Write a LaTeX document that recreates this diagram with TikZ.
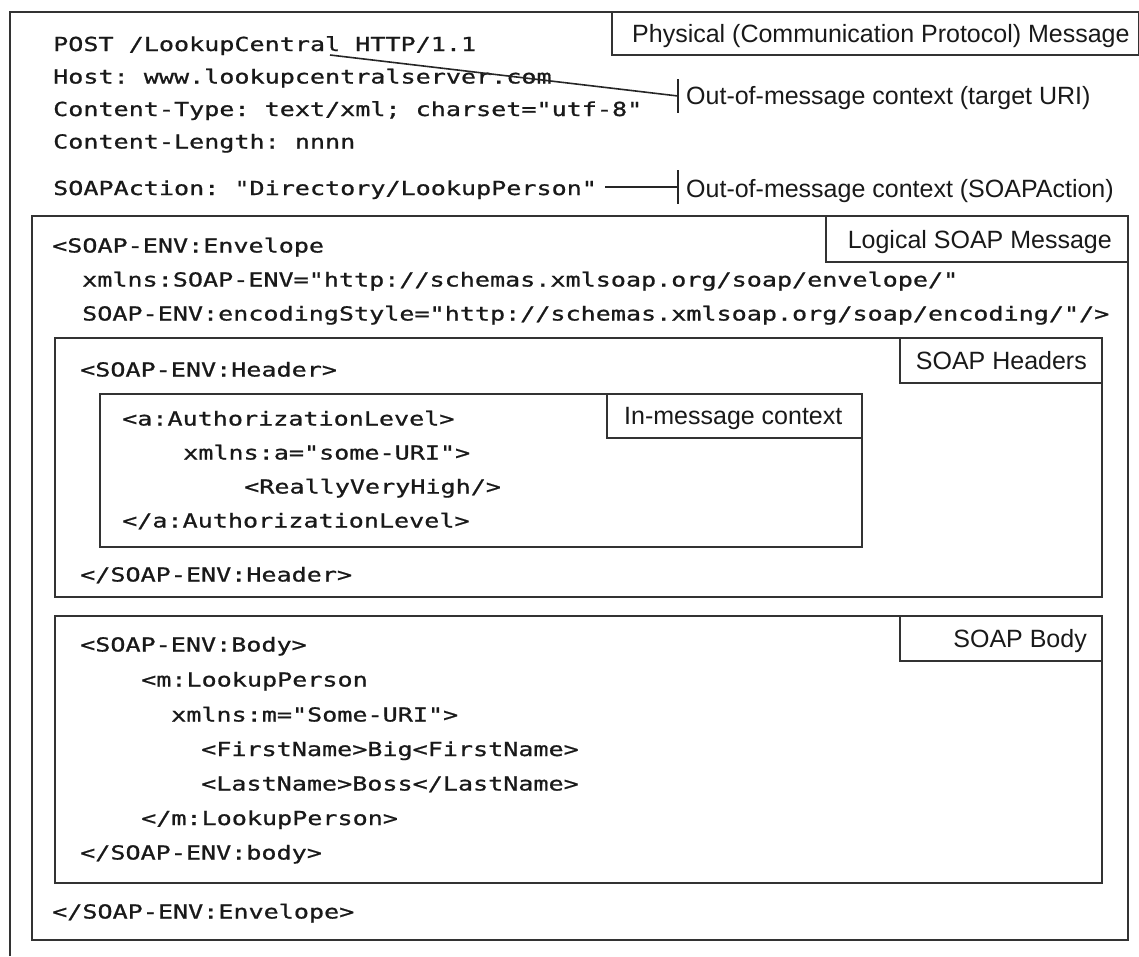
\documentclass[tikz,border=0pt]{standalone}
\usepackage{fontspec}
\newfontfamily\codefont[FakeStretch=1.3,FakeBold=0.9,Ligatures=TeXOff]{DejaVu Sans Mono}
\newfontfamily\tagfont{Liberation Sans}
\tikzset{
	code/.style={anchor=base west, inner sep=0pt, text=black!90, font={\codefont\fontsize{19.3pt}{19.3pt}\selectfont\frenchspacing}},
	tag/.style={anchor=base west, inner sep=0pt, text=black!90, font={\tagfont\fontsize{25pt}{25pt}\selectfont}},
	frame/.style={line width=2pt, draw=black!80},
	pin/.style={line width=1.6pt, draw=black!85},
}
\begin{document}
\begin{tikzpicture}[x=1pt,y=-1pt]
	\useasboundingbox (0,0) rectangle (1139,956);
	
	% physical message
	\draw[frame] (10,956) -- (10,12) -- (1139,12);
	\draw[frame] (612,12) rectangle (1139,55);
	\node[tag] (phys) at (632,42) {Physical (Communication Protocol) Message};
	
	\node[code] (post) at (53,51) {POST /LookupCentral HTTP/1.1};
	\node[code] (host) at (53,83.5) {Host: www.lookupcentralserver.com};
	\node[code] (ctype) at (53,116) {Content-Type: text/xml; charset="utf-8"};
	\node[code] (clen) at (53,148.5) {Content-Length: nnnn};
	\node[code] (action) at (53,195) {SOAPAction: "Directory/LookupPerson"};
	
	\coordinate (uristart) at (330,55);
	\coordinate (uritick) at (678,96);
	\coordinate (actstart) at (605,187);
	\coordinate (acttick) at (678,187);
	\node[tag] (uri) at (686,104) {Out-of-message context (target URI)};
	\node[tag] (actctx) at (686,197) {Out-of-message context (SOAPAction)};
	
	\draw[pin] (uristart) -- (uritick);
	\draw[pin] ([yshift=17pt]uritick) -- ([yshift=-17pt]uritick);
	\draw[pin] (actstart) -- (acttick);
	\draw[pin] ([yshift=17pt]acttick) -- ([yshift=-17pt]acttick);
	
	% logical soap message
	\draw[frame] (32,216) rectangle (1128,940);
	\draw[frame] (826,216) rectangle (1128,262);
	\node[tag, anchor=base east] (logic) at (1112,248) {Logical SOAP Message};
	
	\node[code] (env) at (52,252.5) {<SOAP-ENV:Envelope};
	\node[code] (envns) at (82,286.5) {xmlns:SOAP-ENV="http://schemas.xmlsoap.org/soap/envelope/"};
	\node[code] (envenc) at (82,320.5) {SOAP-ENV:encodingStyle="http://schemas.xmlsoap.org/soap/encoding/"/>};
	
	% headers
	\draw[frame] (55,338) rectangle (1102,597);
	\draw[frame] (900,338) rectangle (1102,383);
	\node[tag, anchor=base east] (hdrs) at (1087,369) {SOAP Headers};
	
	\node[code] (hdr) at (80,376.5) {<SOAP-ENV:Header>};
	
	\draw[frame] (100,394) rectangle (862,547);
	\draw[frame] (607,394) rectangle (862,438);
	\node[tag] (inmsg) at (624,424) {In-message context};
	
	\node[code] (auth) at (122,425.5) {<a:AuthorizationLevel>};
	\node[code] (authns) at (183,459.5) {xmlns:a="some-URI">};
	\node[code] (high) at (244,493.5) {<ReallyVeryHigh/>};
	\node[code] (authend) at (122,527.5) {</a:AuthorizationLevel>};
	
	\node[code] (hdrend) at (80,581.5) {</SOAP-ENV:Header>};
	
	% body
	\draw[frame] (55,616) rectangle (1102,883);
	\draw[frame] (900,616) rectangle (1102,661);
	\node[tag, anchor=base east] (bodylbl) at (1087,647) {SOAP Body};
	
	\node[code] (body) at (80,651.5) {<SOAP-ENV:Body>};
	\node[code] (look) at (141,686.5) {<m:LookupPerson};
	\node[code] (lookns) at (171,721.5) {xmlns:m="Some-URI">};
	\node[code] (first) at (201,756) {<FirstName>Big<FirstName>};
	\node[code] (last) at (201,790.5) {<LastName>Boss</LastName>};
	\node[code] (lookend) at (141,825) {</m:LookupPerson>};
	\node[code] (bodyend) at (80,859.5) {</SOAP-ENV:body>};
	
	\node[code] (envend) at (52,918.5) {</SOAP-ENV:Envelope>};
\end{tikzpicture}
\end{document}
